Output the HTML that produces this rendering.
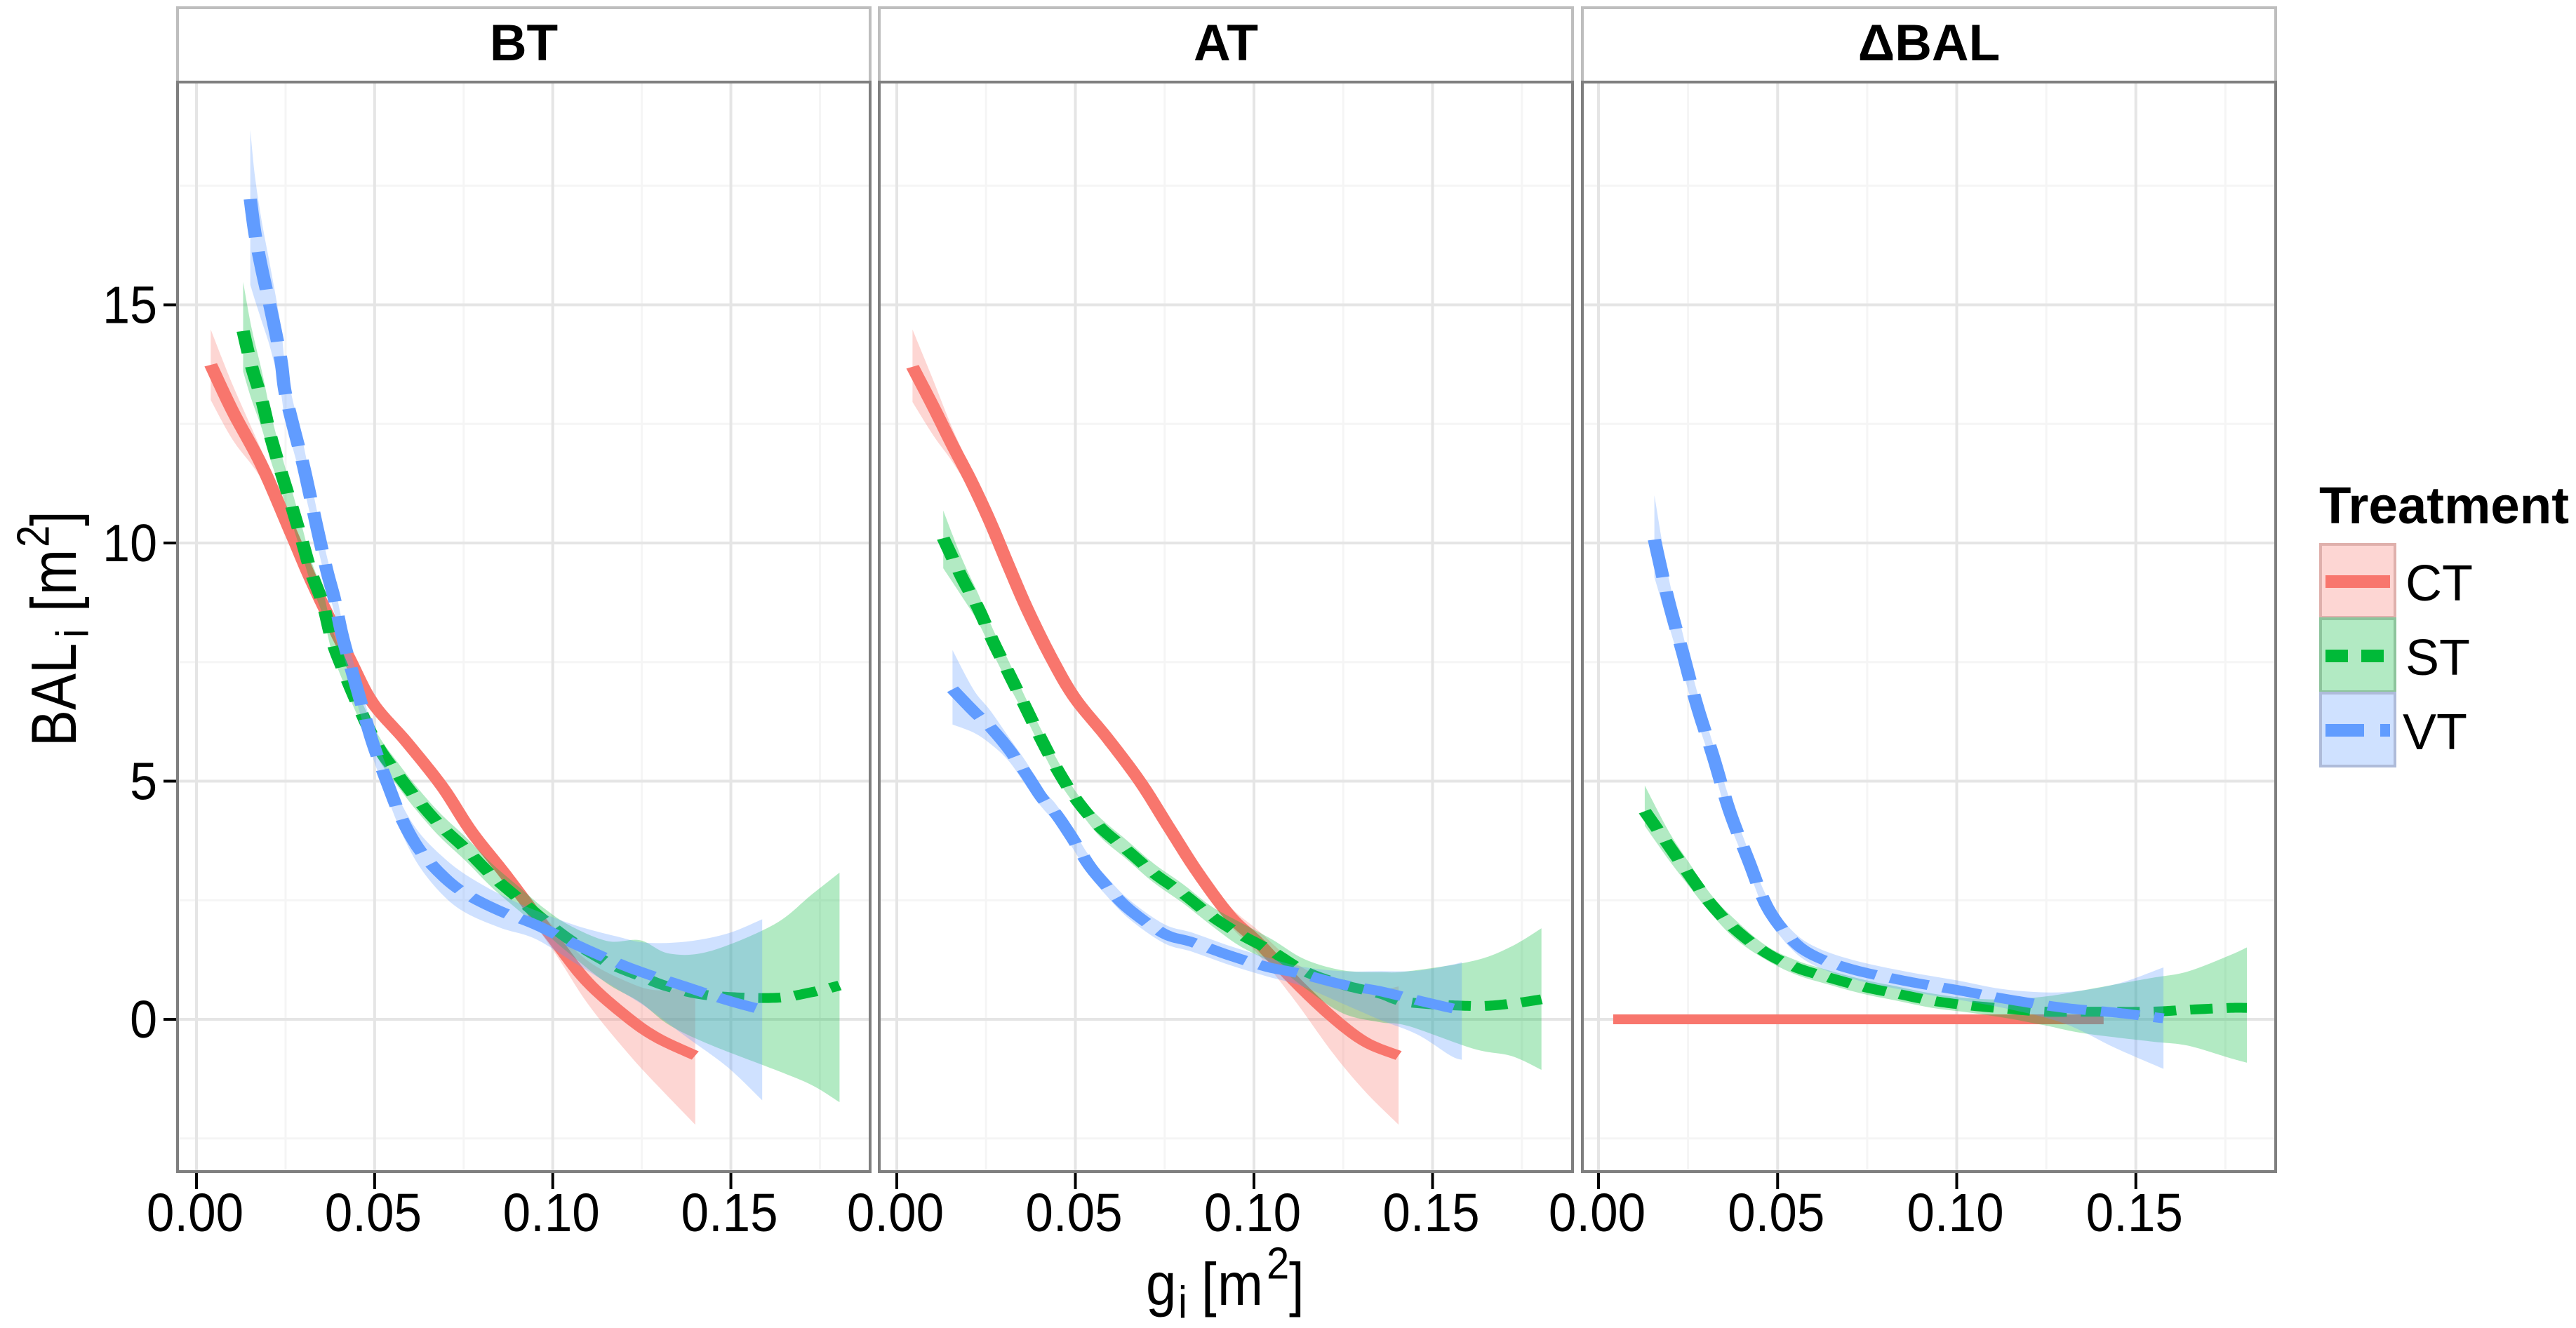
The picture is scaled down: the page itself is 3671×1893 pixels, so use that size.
<!DOCTYPE html>
<html lang="en">
<head>
<meta charset="utf-8">
<title>BALi vs gi by treatment</title>
<style>
html,body{margin:0;padding:0;background:#fff;width:3671px;height:1893px;overflow:hidden}
svg{display:block}
text{font-family:"Liberation Sans",Arial,sans-serif;fill:#000}
</style>
</head>
<body>
<svg id="chart" xmlns="http://www.w3.org/2000/svg" width="3671" height="1893" viewBox="0 0 3671 1893">
  <rect x="0" y="0" width="3671" height="1893" fill="#ffffff"/>
  <g id="panels"></g>
  <g>
    <text transform="translate(108,1060) rotate(-90) scale(1,1.16)" font-size="78"><tspan x="-4" y="0">BAL</tspan><tspan x="151" y="15" font-size="56">i</tspan><tspan x="188" y="0">[</tspan><tspan x="212" y="0">m</tspan><tspan x="280" y="-33" font-size="56">2</tspan><tspan x="310" y="0">]</tspan></text>
  </g>
  <g>
    <text transform="translate(1635,1860) scale(1,1.1)" font-size="78"><tspan x="-2" y="0">g</tspan><tspan x="44" y="17" font-size="58">i</tspan><tspan x="77" y="0">[</tspan><tspan x="100" y="0">m</tspan><tspan x="170" y="-34" font-size="58">2</tspan><tspan x="202" y="0">]</tspan></text>
  </g>
  <g>
    <text x="3305" y="746" font-size="74.5" font-weight="bold">Treatment</text>
    <g>
      <rect x="3307" y="776" width="106" height="104" fill="#FDD6D3" stroke="#DFB0AC" stroke-width="4"/>
      <line x1="3314" x2="3406" y1="829" y2="829" stroke="#F8766D" stroke-width="18"/>
      <text x="3428" y="856" font-size="72">CT</text>
    </g>
    <g>
      <rect x="3307" y="882" width="106" height="104" fill="#B2EAC3" stroke="#8DC49C" stroke-width="4"/>
      <line x1="3314" x2="3397" y1="935" y2="935" stroke="#00BA38" stroke-width="18" stroke-dasharray="32 19"/>
      <text x="3428" y="962" font-size="72">ST</text>
    </g>
    <g>
      <rect x="3307" y="988" width="106" height="104" fill="#CFE1FF" stroke="#AEBBD9" stroke-width="4"/>
      <line x1="3314" x2="3406" y1="1041" y2="1041" stroke="#619CFF" stroke-width="18" stroke-dasharray="55 23"/>
      <text x="3424" y="1068" font-size="72">VT</text>
    </g>
  </g>
</svg>
<script>
// ---- Axis labels ----
const panelTitles = ['BT', 'AT', '\u0394BAL'];
const xTickValues = [0, 0.05, 0.1, 0.15];
const xTickLabels = ['0.00', '0.05', '0.10', '0.15'];
const xMinorValues = [0.025, 0.075, 0.125, 0.175];
const yTickValues = [0, 5, 10, 15];
const yTickLabels = ['0', '5', '10', '15'];
const yMinorValues = [-2.5, 2.5, 7.5, 12.5, 17.5];

// ---- BT panel ----
const btCtG = [.004,.0102,.0183,.0265,.033,.0428,.0494,.059,.069,.0771,.0869,.1,.1098,.1212,.1294,.14];
const btCtMid = [13.74,12.76,11.63,10.22,9.09,7.59,6.65,5.82,4.88,3.95,3.02,1.71,.78,.03,-.39,-.76];
const btCtUp = [.74,.55,.3,.2,.15,.15,.15,.15,.15,.15,.2,.25,.45,.75,1.0,1.45];
const btCtDown = [.74,.6,.3,.2,.15,.15,.15,.15,.15,.15,.2,.25,.45,.75,1.0,1.45];

const btStG = [.0131,.0155,.0184,.0208,.0236,.0265,.0295,.0322,.0355,.038,.0412,.0461,.051,.0559,.0616,.0682,.0755,.0829,.0902,.0976,.105,.1155,.1245,.1327,.1441,.1621,.1727,.1805];
const btStMid = [14.45,13.7,12.99,12.24,11.53,10.83,10.08,9.38,8.72,7.97,7.33,6.47,5.72,5.2,4.65,4.09,3.58,3.02,2.55,2.08,1.66,1.19,.91,.68,.5,.45,.57,.71];
const btStUp = [1.03,.8,.6,.5,.4,.35,.3,.25,.25,.25,.25,.25,.25,.25,.25,.25,.25,.25,.25,.25,.3,.45,.75,.7,.93,1.54,2.05,2.37];
const btStDown = [.85,.7,.6,.5,.4,.35,.3,.25,.25,.25,.25,.25,.25,.25,.25,.25,.25,.25,.25,.25,.3,.45,.55,.8,1.03,1.5,1.95,2.45];

const btVtG = [.0151,.0164,.0183,.0208,.0236,.0248,.027,.0297,.0314,.0339,.0366,.0388,.0412,.0458,.0494,.0535,.0575,.0624,.069,.0755,.0853,.0951,.1065,.118,.1261,.1375,.149,.1588];
const btVtMid = [17.22,16.5,15.76,14.92,13.89,13.2,12.5,11.72,11.16,10.3,9.42,8.8,7.97,6.75,5.82,4.98,4.23,3.58,3.02,2.64,2.27,1.99,1.57,1.19,.96,.68,.4,.2];
const btVtUp = [1.45,1.2,1.0,.85,.7,.6,.5,.45,.4,.35,.3,.3,.3,.3,.3,.3,.3,.35,.4,.4,.35,.3,.4,.55,.65,.95,1.4,1.9];
const btVtDown = [1.8,1.4,1.1,.85,.7,.6,.5,.45,.4,.35,.3,.3,.3,.3,.3,.3,.3,.35,.4,.4,.35,.3,.4,.55,.7,1.05,1.4,1.9];

// ---- AT panel ----
const atCtG = [.0044,.0103,.0156,.0208,.0261,.0314,.0366,.0432,.0498,.059,.0682,.0761,.084,.0932,.1011,.1116,.1222,.1313,.1405];
const atCtMid = [13.7,12.85,12.05,11.3,10.45,9.5,8.6,7.6,6.75,5.9,4.98,4.04,3.11,2.18,1.62,.78,.03,-.48,-.76];
const atCtUp = [.78,.55,.35,.25,.2,.2,.15,.15,.15,.15,.15,.15,.2,.2,.25,.4,.75,1.05,1.45];
const atCtDown = [.74,.6,.35,.25,.2,.2,.15,.15,.15,.15,.15,.15,.2,.2,.25,.4,.75,1.05,1.45];

const atStG = [.013,.0182,.0228,.0271,.0314,.036,.0403,.0449,.0504,.0568,.0642,.0721,.0801,.0879,.0958,.105,.1142,.1248,.1353,.1432,.1616,.1721,.1805];
const atStMid = [10.1,9.28,8.63,7.91,7.26,6.56,5.9,5.25,4.6,4.04,3.57,3.06,2.64,2.18,1.8,1.43,1.01,.73,.54,.36,.28,.33,.42];
const atStUp = [.58,.4,.3,.25,.25,.2,.2,.2,.15,.2,.2,.2,.2,.2,.25,.25,.25,.3,.45,.65,.95,1.2,1.49];
const atStDown = [.63,.4,.3,.25,.25,.2,.2,.2,.15,.2,.2,.2,.2,.2,.25,.25,.35,.6,.6,.5,.9,1.1,1.48];

const atVtG = [.0156,.0215,.0261,.0314,.0366,.0406,.0445,.0491,.0537,.0583,.0649,.0748,.0827,.0932,.1037,.1129,.1248,.1353,.1458,.155,.1582];
const atVtMid = [6.93,6.47,6.14,5.67,5.11,4.65,4.32,3.81,3.25,2.83,2.32,1.8,1.62,1.34,1.1,.96,.73,.59,.4,.24,.2];
const atVtUp = [.82,.45,.35,.25,.25,.2,.2,.2,.2,.2,.2,.2,.2,.2,.2,.15,.28,.42,.62,.9,1.0];
const atVtDown = [.74,.45,.35,.25,.25,.2,.2,.2,.2,.2,.2,.2,.2,.2,.2,.25,.4,.6,.72,1.0,1.05];

// ---- Delta BAL panel ----
const dlCtG = [.0041,.05,.1,.141];
const dlCtMid = [0,0,0,0];
const dlCtUp = [0,0,0,0];
const dlCtDown = [0,0,0,0];

const dlStG = [.0129,.0195,.025,.0314,.038,.0465,.0551,.0642,.0741,.0833,.0932,.1037,.1143,.1248,.1353,.1537,.1643,.1761,.181];
const dlStMid = [4.37,3.66,3.07,2.42,1.9,1.41,1.09,.88,.68,.54,.39,.29,.22,.16,.16,.16,.2,.24,.24];
const dlStUp = [.54,.3,.25,.2,.2,.15,.15,.15,.15,.15,.15,.15,.2,.32,.45,.7,.8,1.1,1.27];
const dlStDown = [.31,.3,.25,.2,.2,.15,.15,.15,.15,.15,.15,.15,.2,.29,.45,.62,.75,1.05,1.15];

const dlVtG = [.0156,.0195,.0235,.0274,.032,.0366,.0419,.0471,.0537,.0603,.0708,.0853,.0998,.1143,.1301,.1445,.1577];
const dlVtMid = [10.07,8.8,7.7,6.61,5.52,4.37,3.33,2.36,1.69,1.33,1.05,.81,.62,.42,.24,.14,.02];
const dlVtUp = [.93,.5,.4,.3,.25,.25,.2,.2,.2,.2,.2,.2,.2,.2,.33,.6,1.07];
const dlVtDown = [.79,.5,.4,.3,.25,.25,.2,.2,.2,.2,.2,.2,.2,.2,.33,.75,1.06];

// ---- Layout (not data) ----
const panelFrames = [
  {left:253, right:1240, x0:280, k:5077, ribbons:[[btCtG,btCtMid,btCtUp,btCtDown],[btStG,btStMid,btStUp,btStDown],[btVtG,btVtMid,btVtUp,btVtDown]]},
  {left:1253, right:2241, x0:1278, k:5090, ribbons:[[atCtG,atCtMid,atCtUp,atCtDown],[atStG,atStMid,atStUp,atStDown],[atVtG,atVtMid,atVtUp,atVtDown]]},
  {left:2255, right:3243, x0:2278, k:5105, ribbons:[[dlCtG,dlCtMid,dlCtUp,dlCtDown],[dlStG,dlStMid,dlStUp,dlStDown],[dlVtG,dlVtMid,dlVtUp,dlVtDown]]}
];
const seriesNames = ['ct', 'st', 'vt'];
const seriesColors = ['#F8766D', '#00BA38', '#619CFF'];
const seriesDashOn = [0, 32, 55];
const seriesDashOff = [0, 20, 21];
const NS = 'http://www.w3.org/2000/svg';
const PANEL_TOP = 117, PANEL_BOTTOM = 1670, STRIP_TOP = 11;
const STROKE_STRETCH_X = 1.35; // the reference's strokes are wider horizontally than vertically

function yScale(v) { return 1453 - 67.9 * v; }

function make(tag, attrs, parent) {
  const el = document.createElementNS(NS, tag);
  for (const key in attrs) el.setAttribute(key, attrs[key]);
  parent.appendChild(el);
  return el;
}

function splineSegments(pts) {
  let d = '';
  for (let i = 0; i < pts.length - 1; i++) {
    const p0 = pts[Math.max(i - 1, 0)], p1 = pts[i], p2 = pts[i + 1], p3 = pts[Math.min(i + 2, pts.length - 1)];
    const c1x = p1[0] + (p2[0] - p0[0]) / 6, c1y = p1[1] + (p2[1] - p0[1]) / 6;
    const c2x = p2[0] - (p3[0] - p1[0]) / 6, c2y = p2[1] - (p3[1] - p1[1]) / 6;
    d += 'C' + c1x.toFixed(1) + ' ' + c1y.toFixed(1) + ' ' + c2x.toFixed(1) + ' ' + c2y.toFixed(1) + ' ' + p2[0].toFixed(1) + ' ' + p2[1].toFixed(1);
  }
  return d;
}

// Walks a screen-space path and rewrites it as dash sub-paths in x-compressed
// coordinates, so dash lengths stay true while the stroke is wider in x.
function stretchedStrokePath(pathEl, on, off) {
  const total = pathEl.getTotalLength();
  const dashOn = on > 0 ? on : total;
  const dashOff = on > 0 ? off : 0;
  let d = '', s = 0;
  while (s < total) {
    const end = Math.min(s + dashOn, total);
    let first = true;
    for (let t = s; ; t += 3) {
      const q = pathEl.getPointAtLength(Math.min(t, end));
      d += (first ? 'M' : 'L') + (q.x / STROKE_STRETCH_X).toFixed(2) + ' ' + q.y.toFixed(2);
      first = false;
      if (t >= end) break;
    }
    s = end + dashOff;
  }
  return d;
}

const root = document.getElementById('panels');

panelFrames.forEach(function (frame, p) {
  const xScale = function (g) { return frame.x0 + frame.k * g; };
  const panelKey = ['bt', 'at', 'delta-bal'][p];

  const group = make('g', {}, root);
  
  

  const strip = make('rect', {x: frame.left, y: STRIP_TOP, width: frame.right - frame.left, height: PANEL_TOP - STRIP_TOP, fill: '#fff', stroke: '#BEBEBE', 'stroke-width': 4}, group);
  
  

  const title = make('text', {x: (frame.left + frame.right) / 2, y: 86, 'font-size': 73, 'font-weight': 'bold', 'text-anchor': 'middle'}, group);
  title.textContent = panelTitles[p];
  
  

  const grid = make('g', {}, group);
  
  
  xMinorValues.forEach(function (g) {
    make('line', {x1: xScale(g), x2: xScale(g), y1: PANEL_TOP, y2: PANEL_BOTTOM, stroke: '#F5F5F5', 'stroke-width': 3}, grid);
  });
  yMinorValues.forEach(function (v) {
    make('line', {x1: frame.left, x2: frame.right, y1: yScale(v), y2: yScale(v), stroke: '#F5F5F5', 'stroke-width': 3}, grid);
  });
  xTickValues.forEach(function (g) {
    make('line', {x1: xScale(g), x2: xScale(g), y1: PANEL_TOP, y2: PANEL_BOTTOM, stroke: '#E5E5E5', 'stroke-width': 4}, grid);
  });
  yTickValues.forEach(function (v) {
    make('line', {x1: frame.left, x2: frame.right, y1: yScale(v), y2: yScale(v), stroke: '#E5E5E5', 'stroke-width': 4}, grid);
  });

  frame.ribbons.forEach(function (s, i) {
    const gs = s[0], mid = s[1], up = s[2], down = s[3];
    const top = gs.map(function (g, j) { return [xScale(g), yScale(mid[j] + up[j])]; });
    const bot = gs.map(function (g, j) { return [xScale(g), yScale(mid[j] - down[j])]; }).reverse();
    const ribbon = make('path', {
      d: 'M' + top[0][0].toFixed(1) + ' ' + top[0][1].toFixed(1) + splineSegments(top) + 'L' + bot[0][0].toFixed(1) + ' ' + bot[0][1].toFixed(1) + splineSegments(bot) + 'Z',
      fill: seriesColors[i], 'fill-opacity': 0.3, stroke: 'none'
    }, group);
    
    

    const pts = gs.map(function (g, j) { return [xScale(g), yScale(mid[j])]; });
    const line = make('path', {
      d: 'M' + pts[0][0].toFixed(1) + ' ' + pts[0][1].toFixed(1) + splineSegments(pts),
      fill: 'none', stroke: seriesColors[i], 'stroke-width': 14
    }, group);
    const dashed = stretchedStrokePath(line, seriesDashOn[i], seriesDashOff[i]);
    line.setAttribute('d', dashed);
    line.setAttribute('transform', 'scale(' + STROKE_STRETCH_X + ',1)');
    
    
  });

  const border = make('rect', {x: frame.left, y: PANEL_TOP, width: frame.right - frame.left, height: PANEL_BOTTOM - PANEL_TOP, fill: 'none', stroke: '#7F7F7F', 'stroke-width': 4}, group);
  
  

  xTickValues.forEach(function (g, i) {
    const tick = make('line', {x1: xScale(g), x2: xScale(g), y1: PANEL_BOTTOM + 2, y2: 1695, stroke: '#000', 'stroke-width': 4}, group);
    
    
    const label = make('text', {transform: 'translate(' + (xScale(g) - 2) + ',1755) scale(1,1.08)', 'font-size': 71, 'text-anchor': 'middle'}, group);
    label.textContent = xTickLabels[i];
    
    
  });

  if (p === 0) {
    yTickValues.forEach(function (v, i) {
      const tick = make('line', {x1: 233, x2: frame.left - 2, y1: yScale(v), y2: yScale(v), stroke: '#000', 'stroke-width': 4}, group);
      
      
      const label = make('text', {transform: 'translate(224,' + (yScale(v) + 26) + ') scale(1,1.08)', 'font-size': 70, 'text-anchor': 'end'}, group);
      label.textContent = yTickLabels[i];
      
      
    });
  }
});
</script>
</body>
</html>
